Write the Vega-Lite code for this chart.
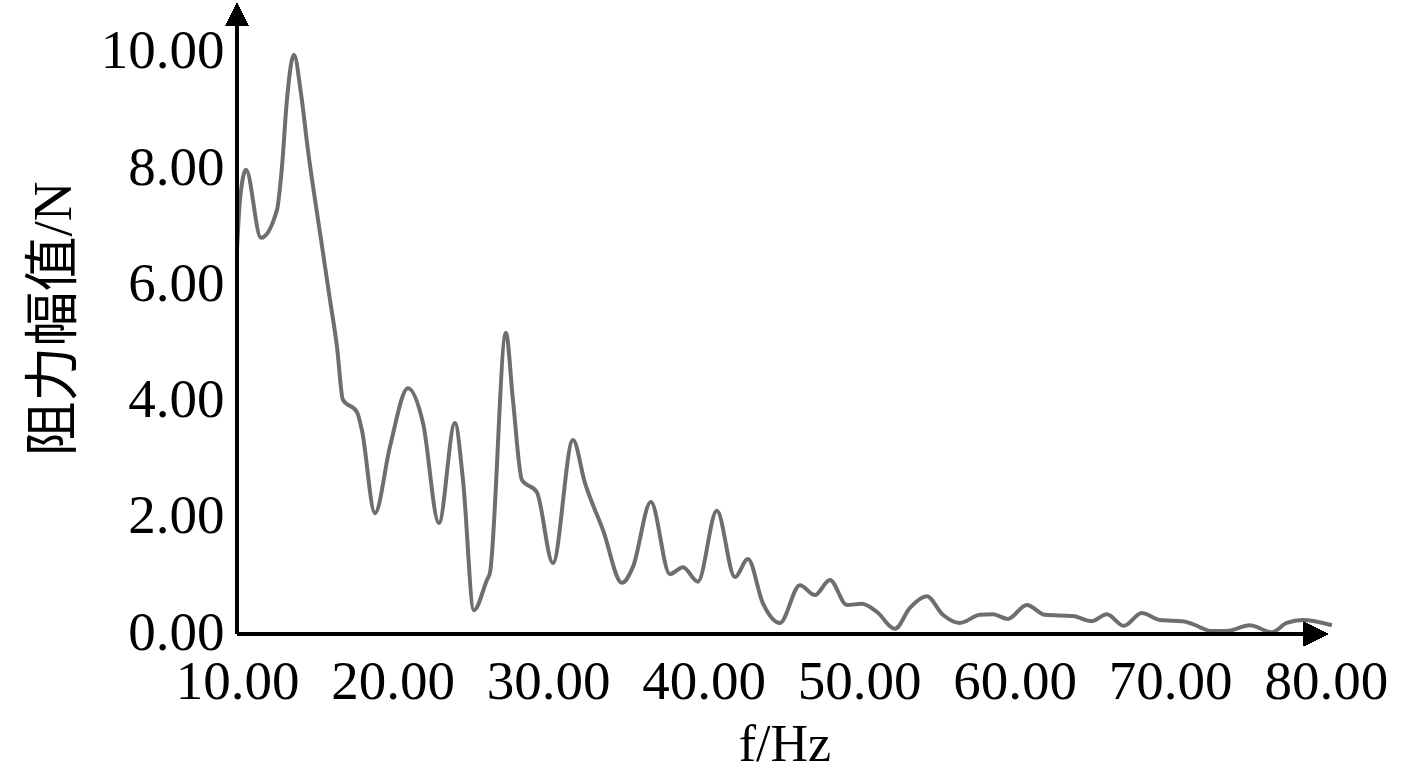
{
  "$schema": "https://vega.github.io/schema/vega-lite/v6.json",
  "autosize": {"type": "none"},
  "padding": {"left": 237, "top": 3, "right": 85, "bottom": 148},
  "width": 1095,
  "height": 631,
  "background": "white",
  "config": {
    "view": {"stroke": null},
    "axis": {
      "labelFont": "Liberation Serif",
      "labelFontSize": 55,
      "labelColor": "black",
      "labelOverlap": false,
      "labelFlush": false,
      "labelBound": false,
      "titleFont": "Liberation Serif, Noto Sans CJK SC",
      "titleFontSize": 55,
      "titleFontWeight": "normal",
      "titleColor": "black",
      "grid": false,
      "ticks": false,
      "domain": false
    }
  },
  "data": {
    "values": [
      {"f": 10.00, "a": 6.61}, {"f": 10.19, "a": 7.47}, {"f": 10.58, "a": 7.99}, {"f": 11.54, "a": 6.82},
      {"f": 12.57, "a": 7.30}, {"f": 12.89, "a": 8.04}, {"f": 13.21, "a": 9.19}, {"f": 13.66, "a": 9.97},
      {"f": 14.11, "a": 9.31}, {"f": 14.56, "a": 8.33}, {"f": 15.34, "a": 6.90}, {"f": 15.98, "a": 5.75},
      {"f": 16.43, "a": 4.94}, {"f": 16.81, "a": 4.03}, {"f": 17.71, "a": 3.82}, {"f": 18.03, "a": 3.51},
      {"f": 18.87, "a": 2.08}, {"f": 19.83, "a": 3.22}, {"f": 20.99, "a": 4.23}, {"f": 21.96, "a": 3.63},
      {"f": 22.98, "a": 1.91}, {"f": 24.01, "a": 3.63}, {"f": 24.53, "a": 2.65}, {"f": 25.23, "a": 0.41},
      {"f": 26.07, "a": 0.93}, {"f": 26.26, "a": 1.05}, {"f": 27.29, "a": 5.18}, {"f": 27.74, "a": 4.03},
      {"f": 28.32, "a": 2.65}, {"f": 29.28, "a": 2.44}, {"f": 30.31, "a": 1.22}, {"f": 31.60, "a": 3.34},
      {"f": 32.37, "a": 2.60}, {"f": 33.53, "a": 1.79}, {"f": 34.75, "a": 0.88}, {"f": 35.45, "a": 1.15},
      {"f": 36.61, "a": 2.27}, {"f": 37.83, "a": 1.03}, {"f": 38.67, "a": 1.15}, {"f": 39.63, "a": 0.90},
      {"f": 40.85, "a": 2.12}, {"f": 42.01, "a": 0.98}, {"f": 42.85, "a": 1.29}, {"f": 43.81, "a": 0.53},
      {"f": 44.90, "a": 0.19}, {"f": 46.19, "a": 0.84}, {"f": 47.15, "a": 0.67}, {"f": 48.12, "a": 0.93},
      {"f": 49.21, "a": 0.50}, {"f": 50.17, "a": 0.52}, {"f": 51.14, "a": 0.38}, {"f": 52.30, "a": 0.09},
      {"f": 53.26, "a": 0.45}, {"f": 54.35, "a": 0.65}, {"f": 55.38, "a": 0.33}, {"f": 56.47, "a": 0.19},
      {"f": 57.76, "a": 0.33}, {"f": 58.60, "a": 0.34}, {"f": 59.56, "a": 0.26}, {"f": 60.78, "a": 0.50},
      {"f": 61.94, "a": 0.33}, {"f": 63.74, "a": 0.31}, {"f": 64.96, "a": 0.22}, {"f": 65.92, "a": 0.34},
      {"f": 67.02, "a": 0.14}, {"f": 68.17, "a": 0.36}, {"f": 69.33, "a": 0.24}, {"f": 70.81, "a": 0.22},
      {"f": 71.45, "a": 0.17}, {"f": 72.67, "a": 0.05}, {"f": 73.64, "a": 0.05}, {"f": 75.11, "a": 0.15},
      {"f": 76.53, "a": 0.03}, {"f": 77.49, "a": 0.19}, {"f": 78.52, "a": 0.24}, {"f": 80.39, "a": 0.15}
    ]
  },
  "layer": [
    {
      "mark": {"type": "line", "color": "#6e6e6e", "strokeWidth": 4, "interpolate": "monotone"},
      "encoding": {
        "x": {
          "field": "f", "type": "quantitative",
          "scale": {"domain": [10, 80.4], "nice": false, "zero": false},
          "axis": {"values": [10, 20, 30, 40, 50, 60, 70, 80], "format": ".2f", "labelPadding": 21, "labelBaseline": "top", "title": "f/Hz", "titlePadding": 10, "titleFontSize": 52}
        },
        "y": {
          "field": "a", "type": "quantitative",
          "scale": {"domain": [0, 10.86], "nice": false},
          "axis": {"values": [0, 2, 4, 6, 8, 10], "format": ".2f", "labelPadding": 13, "labelOffset": -2, "title": "阻力幅值/N", "titlePadding": 18}
        }
      }
    },
    {
      "mark": {"type": "rule", "color": "black", "strokeWidth": 3.5},
      "encoding": {
        "x": {"datum": 10, "type": "quantitative"},
        "x2": {"datum": 79.6},
        "y": {"datum": 0, "type": "quantitative"}
      }
    },
    {
      "mark": {"type": "rule", "color": "black", "strokeWidth": 3.5},
      "encoding": {
        "x": {"datum": 10, "type": "quantitative"},
        "y": {"datum": 0, "type": "quantitative"},
        "y2": {"datum": 10.5}
      }
    },
    {
      "mark": {"type": "point", "shape": "M1,0L-1,-1L-1,1Z", "size": 576, "filled": true, "color": "black", "opacity": 1},
      "encoding": {
        "x": {"datum": 79.36, "type": "quantitative"},
        "y": {"datum": 0, "type": "quantitative"}
      }
    },
    {
      "mark": {"type": "point", "shape": "M0,-1L1,1L-1,1Z", "size": 529, "filled": true, "color": "black", "opacity": 1},
      "encoding": {
        "x": {"datum": 10, "type": "quantitative"},
        "y": {"datum": 10.66, "type": "quantitative"}
      }
    }
  ]
}
